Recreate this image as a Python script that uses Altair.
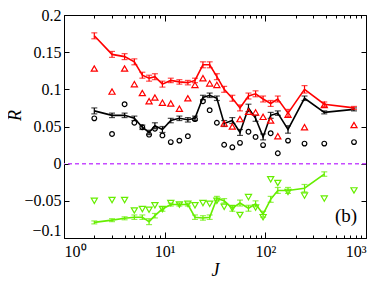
import altair as alt
import pandas as pd

# ---------------- data ----------------
J = [2, 3, 4, 5, 6, 7, 8, 9.5, 11.5, 14, 17, 20, 24, 28, 33, 39, 47, 56, 68, 80,
     95, 113, 133, 168, 245, 385, 760]

red_line = [0.172, 0.147, 0.144, 0.137, 0.119, 0.115, 0.117, 0.107, 0.112, 0.110,
            0.109, 0.112, 0.133, 0.133, 0.117, 0.100, 0.088, 0.075, 0.091, 0.094,
            0.087, 0.081, 0.087, 0.068, 0.100, 0.080, 0.075]
red_err = [0.004, 0.004, 0.004, 0.004, 0.004, 0.004, 0.004, 0.004, 0.003, 0.003,
           0.003, 0.003, 0.004, 0.004, 0.004, 0.004, 0.004, 0.004, 0.004, 0.004,
           0.004, 0.004, 0.004, 0.005, 0.005, 0.003, 0.002]
red_tri = [0.128, 0.097, 0.128, 0.107, 0.095, 0.084, 0.089, 0.082, 0.081, 0.074,
           0.088, 0.106, 0.115, 0.108, 0.106, 0.054, 0.050, 0.060, 0.070, 0.069,
           0.063, 0.058, 0.037, 0.066, 0.049, 0.079, 0.052]

black_line = [0.071, 0.065, 0.065, 0.061, 0.049, 0.042, 0.051, 0.046, 0.058, 0.061,
              0.059, 0.061, 0.089, 0.092, 0.088, 0.054, 0.058, 0.042, 0.075, 0.061,
              0.036, 0.065, 0.068, 0.046, 0.088, 0.069, 0.073]
black_err = [0.004, 0.003, 0.003, 0.003, 0.003, 0.003, 0.004, 0.004, 0.003, 0.003,
             0.003, 0.003, 0.003, 0.003, 0.003, 0.004, 0.004, 0.004, 0.005, 0.004,
             0.004, 0.004, 0.003, 0.005, 0.003, 0.002, 0.002]
black_circ = [0.061, 0.040, 0.080, 0.055, 0.049, 0.039, 0.047, 0.038, 0.029, 0.031,
              0.037, 0.060, 0.084, 0.072, 0.055, 0.0255, 0.022, 0.028, 0.043, 0.036,
              0.025, 0.041, 0.014, 0.031, 0.027, 0.027, 0.029]

green_J = J[:-1]
green_line = [-0.079, -0.076, -0.0735, -0.072, -0.072, -0.078, -0.070, -0.061, -0.055,
              -0.055, -0.055, -0.072, -0.073, -0.072, -0.047, -0.050, -0.060, -0.053,
              -0.060, -0.054, -0.068, -0.048, -0.036, -0.036, -0.033, -0.014]
green_err = [0.002, 0.002, 0.002, 0.003, 0.003, 0.004, 0.003, 0.003, 0.002, 0.002,
             0.002, 0.003, 0.003, 0.003, 0.003, 0.003, 0.004, 0.004, 0.004, 0.004,
             0.004, 0.004, 0.004, 0.004, 0.005, 0.003]
green_tri = [-0.050, -0.049, -0.049, -0.063, -0.061, -0.062, -0.056, -0.061, -0.053,
             -0.055, -0.054, -0.056, -0.053, -0.054, -0.050, -0.058, -0.060, -0.069,
             -0.045, -0.059, -0.072, -0.021, -0.026, -0.038, -0.043, -0.047, -0.036]

x_ticks_major = [1, 10, 100, 1000]
x_ticks_all = [1, 2, 3, 4, 5, 6, 7, 8, 9, 10, 20, 30, 40, 50, 60, 70, 80, 90,
               100, 200, 300, 400, 500, 600, 700, 800, 900, 1000]
y_ticks = [-0.1, -0.05, 0, 0.05, 0.1, 0.15, 0.2]

# ---------------- styling ----------------
RED = "#ff0000"
BLACK = "#000000"
GREEN = "#66ee00"
PURPLE = "#c64bff"
FONT = "Times New Roman, Liberation Serif, serif"
W, H = 302, 223

xs = alt.Scale(type="log", domain=[1, 1000], nice=False)
ys = alt.Scale(domain=[-0.1, 0.2], nice=False, zero=False)

major_test = "datum.value == 1 || datum.value == 10 || datum.value == 100 || datum.value == 1000"

ax_x_main = alt.Axis(orient="bottom", values=x_ticks_major, tickSize=0, domain=False,
                     grid=False, labelFont=FONT, labelFontSize=16, labelPadding=5,
                     labelColor="black",
                     labelExpr="datum.value == 1 ? '10⁰' : datum.value == 10 ? '10¹' : datum.value == 100 ? '10²' : '10³'",
                     title="J", titleFont=FONT, titleFontSize=18, titleFontStyle="italic",
                     titleFontWeight="normal", titlePadding=2, titleColor="black")
ax_y_main = alt.Axis(orient="left", values=y_ticks, tickSize=0, domain=False, grid=False,
                     labelFont=FONT, labelFontSize=16, labelPadding=3, format=".2~f",
                     labelColor="black",
                     labelBaseline={"condition": {"test": "datum.value < -0.09", "value": "bottom"},
                                    "value": "middle"},
                     title="R", titleFont=FONT, titleFontSize=18, titleFontStyle="italic",
                     titleFontWeight="normal", titleX=-40, titleY=100, titleColor="black")

# inward ticks: axes pushed across the plot with a negative offset
ax_x_in_bottom = alt.Axis(orient="top", offset=-H, values=x_ticks_all, labels=False,
                          domain=False, grid=False, title=None, tickColor="black",
                          tickSize={"condition": {"test": major_test, "value": 6}, "value": 3})
ax_x_in_top = alt.Axis(orient="bottom", offset=-H, values=x_ticks_all, labels=False,
                       domain=False, grid=False, title=None, tickColor="black",
                       tickSize={"condition": {"test": major_test, "value": 6}, "value": 3})
ax_y_in_left = alt.Axis(orient="right", offset=-W, values=y_ticks, labels=False,
                        domain=False, grid=False, title=None, tickSize=5, tickColor="black")
ax_y_in_right = alt.Axis(orient="left", offset=-W, values=y_ticks, labels=False,
                         domain=False, grid=False, title=None, tickSize=5, tickColor="black")


def frame(xv, v, e):
    d = pd.DataFrame({"J": xv, "v": v, "e": e})
    d["lo"] = d["v"] - d["e"]
    d["hi"] = d["v"] + d["e"]
    return d


df_red = frame(J, red_line, red_err)
df_red_m = pd.DataFrame({"J": J, "m": red_tri})
df_blk = frame(J, black_line, black_err)
df_blk_m = pd.DataFrame({"J": J, "m": black_circ})
df_grn = frame(green_J, green_line, green_err)
df_grn_m = pd.DataFrame({"J": J, "m": green_tri})


def series(d, dm, color, shape, msize, xa=None, ya=None, xb=None, yb=None, xc=None, yc=None):
    base = alt.Chart(d)
    line = base.mark_line(color=color, strokeWidth=1.6).encode(
        x=alt.X("J:Q", scale=xs, axis=xa), y=alt.Y("v:Q", scale=ys, axis=ya))
    rule = base.mark_rule(color=color, strokeWidth=1.2).encode(
        x=alt.X("J:Q", scale=xs, axis=xb), y=alt.Y("lo:Q", scale=ys, axis=yb), y2="hi:Q")
    cap_lo = base.mark_tick(color=color, orient="horizontal", size=6, thickness=1.2).encode(
        x=alt.X("J:Q", scale=xs, axis=xc), y=alt.Y("lo:Q", scale=ys, axis=yc))
    cap_hi = base.mark_tick(color=color, orient="horizontal", size=6, thickness=1.2).encode(
        x=alt.X("J:Q", scale=xs, axis=None), y=alt.Y("hi:Q", scale=ys, axis=None))
    pts = alt.Chart(dm).mark_point(shape=shape, filled=False, color=color, size=msize,
                                   strokeWidth=1.2, opacity=1).encode(
        x=alt.X("J:Q", scale=xs, axis=None), y=alt.Y("m:Q", scale=ys, axis=None))
    return [pts, line, rule, cap_lo, cap_hi]


zero_line = alt.Chart(pd.DataFrame({"z": [0]})).mark_rule(
    color=PURPLE, strokeWidth=1.5, strokeDash=[4, 3]).encode(
    y=alt.Y("z:Q", scale=ys, axis=None))

label_b = alt.Chart(pd.DataFrame({"t": ["(b)"]})).mark_text(
    font=FONT, fontSize=19, x=282, y=201, align="center", baseline="middle",
    color="black").encode(text="t:N")

layers = [zero_line]
layers += series(df_grn, df_grn_m, GREEN, "triangle-down", 38,
                 xa=ax_x_main, ya=ax_y_main, xb=ax_x_in_bottom, yb=ax_y_in_left,
                 xc=ax_x_in_top, yc=ax_y_in_right)
layers += series(df_blk, df_blk_m, BLACK, "circle", 22)
layers += series(df_red, df_red_m, RED, "triangle-up", 38)
layers.append(label_b)

chart = alt.layer(*layers).resolve_axis(x="independent", y="independent").properties(
    width=W, height=H,
    autosize=alt.AutoSizeParams(type="none"),
    padding={"left": 56, "top": 7, "right": 8, "bottom": 47},
).configure_view(stroke="black", strokeWidth=1)

chart.save("out.html", embed_options={"renderer": "svg", "actions": False})
